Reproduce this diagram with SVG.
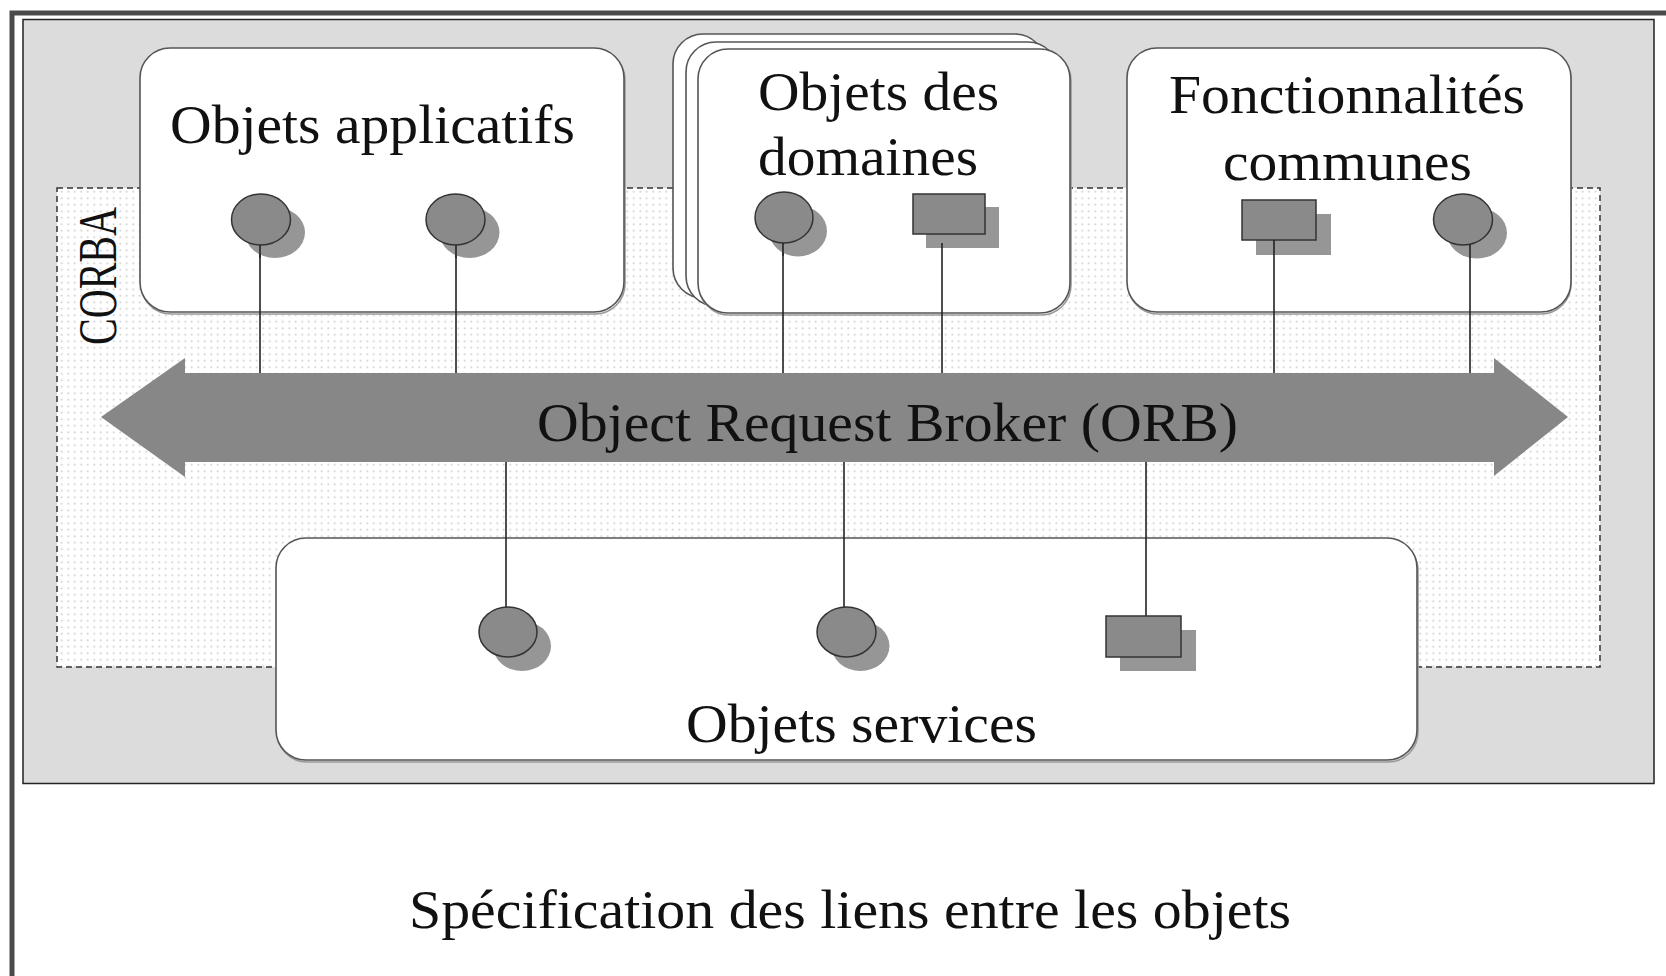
<svg xmlns="http://www.w3.org/2000/svg" width="1666" height="976" viewBox="0 0 1666 976">
<defs>
<pattern id="dots" width="6.5" height="6.5" patternUnits="userSpaceOnUse"><rect width="6.5" height="6.5" fill="#fff"/><circle cx="3.25" cy="3.25" r="0.9" fill="#c8c8c8"/></pattern>
</defs>
<style>
.box{fill:#fff;stroke:#555;stroke-width:1.6}
.bshadow{fill:none;stroke:#9a9a9a;stroke-width:1.6}
.face{fill:#8a8a8a;stroke:#333;stroke-width:1.5}
.shadow{fill:#969696}
.lbl{font-family:"Liberation Serif","Times New Roman",serif;font-size:54px;fill:#111}
#connectors line{stroke:#222;stroke-width:1.6}
</style>
<rect width="1666" height="976" fill="#fff"/>
<path d="M12 976 V13 H1666" fill="none" stroke="#4a4a4a" stroke-width="5"/>
<rect id="frame" x="23" y="19.5" width="1631" height="764" fill="#dcdcdc" stroke="#222" stroke-width="1.5"/>
<g id="corba">
<rect x="57" y="188" width="1543" height="479" fill="url(#dots)" stroke="#333" stroke-width="1.5" stroke-dasharray="6 4"/>
<text class="lbl" font-size="46" text-anchor="middle" textLength="138" lengthAdjust="spacingAndGlyphs" transform="translate(116,276) rotate(-90)">CORBA</text>
</g>
<g id="node-app">
<rect class="bshadow" x="141" y="50" width="484" height="264" rx="30"/>
<rect class="box" x="140" y="48" width="484" height="264" rx="30"/>
<text class="lbl" x="170" y="143" textLength="405" lengthAdjust="spacingAndGlyphs">Objets applicatifs</text>
</g>
<g id="node-domaines">
<rect class="box" x="673" y="34" width="372" height="264" rx="30"/>
<rect class="box" x="686" y="42" width="372" height="264" rx="30"/>
<rect class="bshadow" x="699" y="51" width="372" height="264" rx="30"/>
<rect class="box" x="698" y="49" width="372" height="264" rx="30"/>
<text class="lbl" x="758" y="110" textLength="241" lengthAdjust="spacingAndGlyphs">Objets des</text>
<text class="lbl" x="758" y="175" textLength="220" lengthAdjust="spacingAndGlyphs">domaines</text>
</g>
<g id="node-fonct">
<rect class="bshadow" x="1128" y="50" width="443" height="264" rx="30"/>
<rect class="box" x="1127" y="48" width="444" height="264" rx="30"/>
<text class="lbl" x="1169" y="113" textLength="356" lengthAdjust="spacingAndGlyphs">Fonctionnalités</text>
<text class="lbl" x="1223" y="180" textLength="249" lengthAdjust="spacingAndGlyphs">communes</text>
</g>
<g id="node-services">
<rect class="bshadow" x="277" y="540" width="1141" height="222" rx="30"/>
<rect class="box" x="276" y="538" width="1141" height="222" rx="30"/>
<text class="lbl" x="686" y="742" textLength="351" lengthAdjust="spacingAndGlyphs">Objets services</text>
</g>
<g id="node-orb">
<polygon points="101,417 185,358 185,373 1494,373 1494,358 1568,417 1494,476 1494,462 185,462 185,477" fill="#878787"/>
<text class="lbl" x="537" y="441" textLength="701" lengthAdjust="spacingAndGlyphs">Object Request Broker (ORB)</text>
</g>
<g id="connectors">
<line x1="260" y1="245" x2="260" y2="373"/>
<line x1="456" y1="245" x2="456" y2="373"/>
<line x1="783" y1="243" x2="783" y2="373"/>
<line x1="942" y1="243" x2="942" y2="373"/>
<line x1="1274" y1="242" x2="1274" y2="373"/>
<line x1="1470" y1="245" x2="1470" y2="373"/>
<line x1="506" y1="462" x2="506" y2="607"/>
<line x1="844" y1="462" x2="844" y2="607"/>
<line x1="1146" y1="462" x2="1146" y2="616"/>
</g>
<g id="iface-app-1"><ellipse class="shadow" cx="275" cy="232.5" rx="30" ry="25.5"/><ellipse class="face" cx="261" cy="219.5" rx="29.5" ry="25.5"/><line x1="260" y1="245" x2="260" y2="258" stroke="#222" stroke-width="1.6"/></g>
<g id="iface-app-2"><ellipse class="shadow" cx="469.5" cy="232.5" rx="30" ry="25.5"/><ellipse class="face" cx="455.5" cy="219.5" rx="29.5" ry="25.5"/><line x1="456" y1="245" x2="456" y2="258" stroke="#222" stroke-width="1.6"/></g>
<g id="iface-dom-1"><ellipse class="shadow" cx="798" cy="231" rx="29" ry="25.5"/><ellipse class="face" cx="784" cy="217.5" rx="29" ry="25.5"/><line x1="783" y1="243" x2="783" y2="256" stroke="#222" stroke-width="1.6"/></g>
<g id="iface-dom-2"><rect class="shadow" x="926" y="207" width="73" height="41"/><rect class="face" x="913" y="194" width="72" height="40"/><line x1="942" y1="243" x2="942" y2="248" stroke="#222" stroke-width="1.6"/></g>
<g id="iface-fonct-1"><rect class="shadow" x="1256" y="214" width="75" height="41"/><rect class="face" x="1242" y="200" width="74" height="40"/><line x1="1274" y1="240" x2="1274" y2="255" stroke="#222" stroke-width="1.6"/></g>
<g id="iface-fonct-2"><ellipse class="shadow" cx="1477" cy="233" rx="30" ry="25.5"/><ellipse class="face" cx="1463" cy="219.5" rx="29.5" ry="25.5"/><line x1="1470" y1="244" x2="1470" y2="258" stroke="#222" stroke-width="1.6"/></g>
<g id="iface-srv-1"><ellipse class="shadow" cx="522" cy="646" rx="29" ry="25"/><ellipse class="face" cx="508" cy="632" rx="29" ry="25"/></g>
<g id="iface-srv-2"><ellipse class="shadow" cx="860.5" cy="646" rx="29" ry="25"/><ellipse class="face" cx="846.5" cy="632" rx="29.5" ry="25"/></g>
<g id="iface-srv-3"><rect class="shadow" x="1120" y="630" width="76" height="41"/><rect class="face" x="1106" y="616" width="75" height="41"/></g>
<text class="lbl" x="409" y="928" textLength="882" lengthAdjust="spacingAndGlyphs">Spécification des liens entre les objets</text>
</svg>
